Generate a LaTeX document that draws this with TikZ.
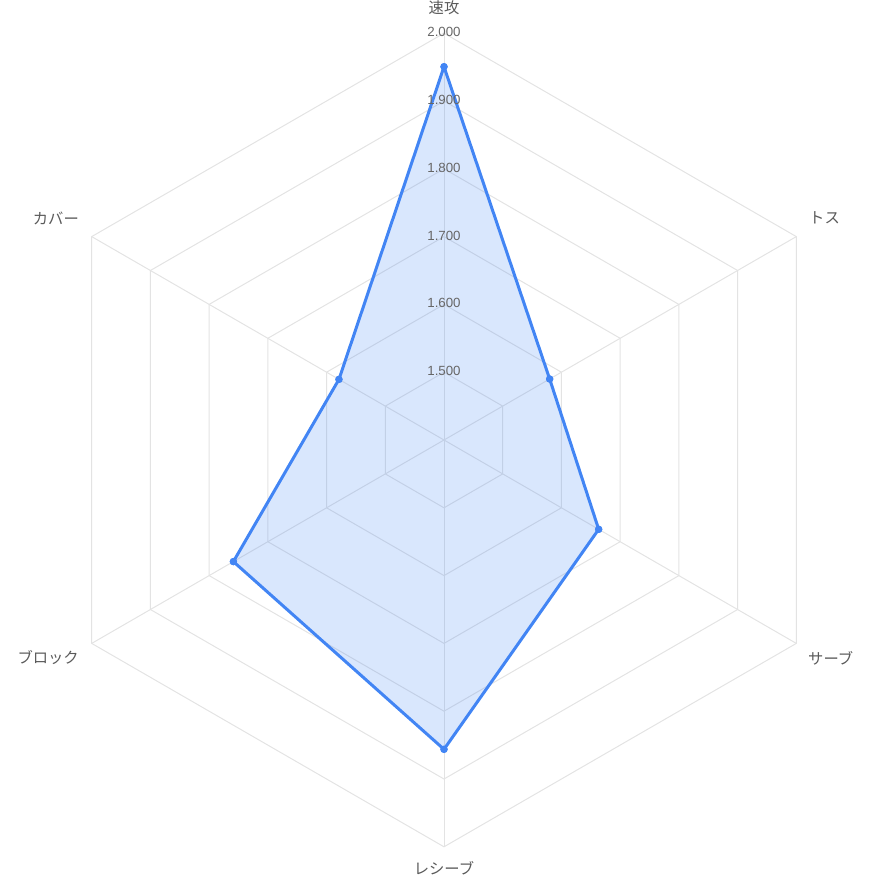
\documentclass[tikz,border=0pt]{standalone}
\usepackage{fontspec}
\setmainfont{Liberation Sans}
\newfontfamily\jp{Noto Sans CJK JP}
\definecolor{gridgray}{HTML}{E3E3E3}
\definecolor{serieblue}{HTML}{4285F4}
\definecolor{tickgray}{HTML}{666666}
\definecolor{labgray}{HTML}{5A5A5A}
\begin{document}
\begin{tikzpicture}[x=1pt,y=1pt,
  gridline/.style={draw=gridgray, line width=1pt},
  serieline/.style={draw=serieblue, line width=3pt, line join=round},
  seriefill/.style={fill=serieblue, fill opacity=0.2},
  dot/.style={circle, fill=serieblue, inner sep=0pt, minimum size=7.5pt},
  ticklab/.style={text=tickgray, font=\fontsize{13.3}{15}\selectfont, inner sep=0pt},
  axlab/.style={text=labgray, font=\jp\fontsize{15.3}{18}\selectfont, inner sep=0pt}]
\useasboundingbox (0,-880) rectangle (880,0);
\begin{scope}[shift={(444,-440)}]
  \coordinate (ctr) at (0,0);
  % rings
  \foreach \k in {1,...,6}{
    \pgfmathsetmacro{\r}{\k*67.8}
    \draw[gridline] (90:\r) -- (30:\r) -- (-30:\r) -- (-90:\r) -- (-150:\r) -- (150:\r) -- cycle;
  }
  % spokes
  \coordinate (ax1) at (90:406.8);
  \coordinate (ax2) at (30:406.8);
  \coordinate (ax3) at (-30:406.8);
  \coordinate (ax4) at (-90:406.8);
  \coordinate (ax5) at (-150:406.8);
  \coordinate (ax6) at (150:406.8);
  \foreach \i in {1,...,6}{ \draw[gridline] (ctr) -- (ax\i); }
  % data points
  \node[dot] (p1) at (90:373.3) {};
  \node[dot] (p2) at (30:122.0) {};
  \node[dot] (p3) at (-30:178.6) {};
  \node[dot] (p4) at (-90:309.3) {};
  \node[dot] (p5) at (-150:243.2) {};
  \node[dot] (p6) at (150:121.3) {};
  \fill[seriefill] (p1.center) -- (p2.center) -- (p3.center) -- (p4.center) -- (p5.center) -- (p6.center) -- cycle;
  \draw[serieline] (p1.center) -- (p2.center) -- (p3.center) -- (p4.center) -- (p5.center) -- (p6.center) -- cycle;
  \foreach \i in {1,...,6}{ \fill[serieblue] (p\i) circle (3.6); }
  % tick labels
  \node[ticklab] (t1) at (0,68.8) {1.500};
  \node[ticklab] (t2) at (0,136.6) {1.600};
  \node[ticklab] (t3) at (0,204.4) {1.700};
  \node[ticklab] (t4) at (0,272.2) {1.800};
  \node[ticklab] (t5) at (0,340.0) {1.900};
  \node[ticklab] (t6) at (0,407.8) {2.000};
\end{scope}
% axis labels
\node[axlab] (l1) at (444,-8) {速攻};
\node[axlab, anchor=west] (l2) at (809,-218) {トス};
\node[axlab, anchor=west] (l3) at (808,-658) {サーブ};
\node[axlab] (l4) at (444,-868) {レシーブ};
\node[axlab, anchor=east] (l5) at (79,-658) {ブロック};
\node[axlab, anchor=east] (l6) at (79,-218) {カバー};
\end{tikzpicture}
\end{document}
